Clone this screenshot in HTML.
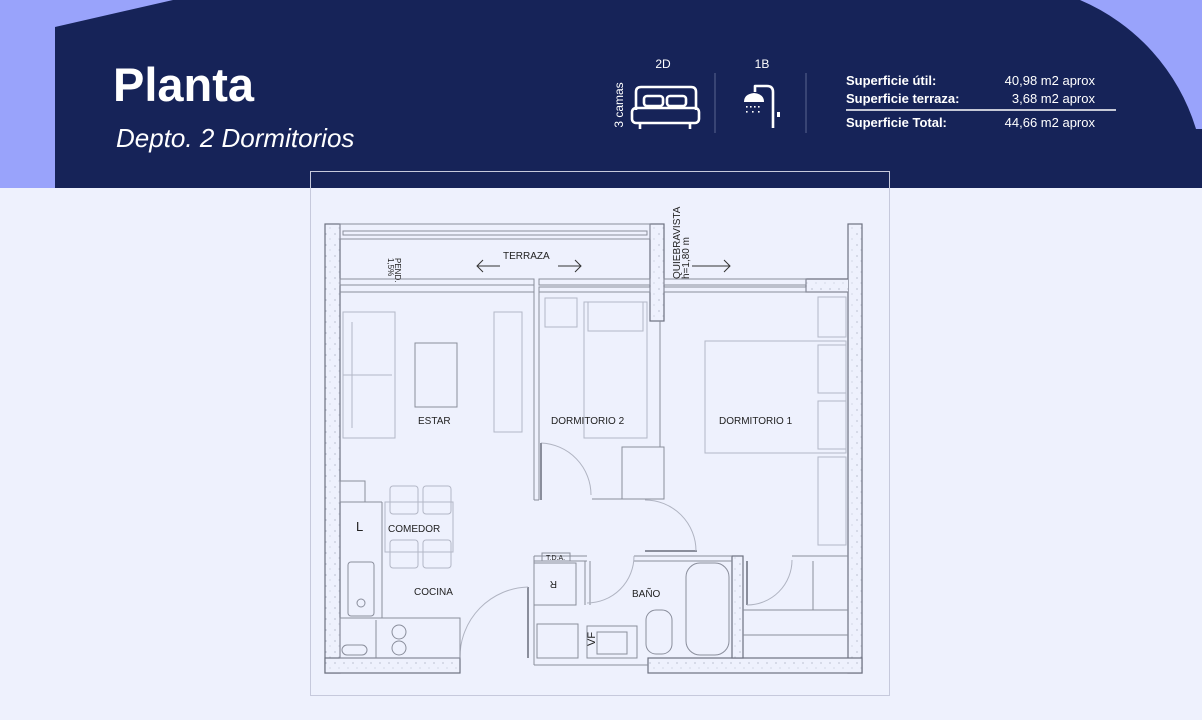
<!DOCTYPE html>
<html><head><meta charset="utf-8"><style>
html,body{margin:0;padding:0;width:1202px;height:720px;overflow:hidden;background:#eef1fd;font-family:"Liberation Sans",sans-serif;}
svg{position:absolute;left:0;top:0}
</style></head><body>
<svg width="1202" height="720" viewBox="0 0 1202 720" xmlns="http://www.w3.org/2000/svg">
<defs>
<pattern id="sp" width="9" height="11" patternUnits="userSpaceOnUse">
<rect width="9" height="11" fill="#eef1fd"/>
<circle cx="2" cy="3" r="0.6" fill="#9aa0b4"/><circle cx="6" cy="8" r="0.5" fill="#aab0c2"/>
</pattern>
</defs>
<rect x="0" y="0" width="1202" height="188" fill="#99a3fb"/>
<polygon points="55,27 173,0 1202,0 1202,188 55,188" fill="#162358"/>
<path d="M1080,0 A205,205 0 0 1 1196,129 L1202,129 L1202,0 Z" fill="#99a3fb"/>
<rect x="310.5" y="171.5" width="579" height="524" fill="none" stroke="#c6c9dc" stroke-width="1"/>
<text x="113" y="101" font-size="47" font-weight="bold" fill="#fff">Planta</text>
<text x="116" y="147" font-size="26" font-style="italic" fill="#fff">Depto. 2 Dormitorios</text>
<text x="663" y="68" font-size="12" fill="#fff" text-anchor="middle">2D</text>
<text x="762" y="68" font-size="12" fill="#fff" text-anchor="middle">1B</text>
<text transform="translate(623,105) rotate(-90)" font-size="12" fill="#fff" text-anchor="middle">3 camas</text>
<g fill="none" stroke="#fff" stroke-width="2.6" stroke-linejoin="round">
<path d="M636,110 V92 Q636,87 641,87 H691 Q696,87 696,92 V110"/>
<rect x="632" y="108" width="67" height="15" rx="4"/>
<rect x="644" y="96" width="19" height="10" rx="3"/><rect x="667" y="96" width="19" height="10" rx="3"/>
<path d="M640,124 V129 M690,124 V129"/>
<path d="M773,128 V92 Q773,86 767,86 H755 V92"/>
</g>
<path d="M744,102 Q744,94 754,93 Q764,94 764,102 Z" fill="#fff"/>
<g fill="#fff"><rect x="746" y="106" width="1.6" height="1.6"/><rect x="750" y="106" width="1.6" height="1.6"/><rect x="754" y="106" width="1.6" height="1.6"/><rect x="758" y="106" width="1.6" height="1.6"/><rect x="746" y="111" width="1.6" height="1.6"/><rect x="752" y="111" width="1.6" height="1.6"/><rect x="758" y="111" width="1.6" height="1.6"/><rect x="777" y="112" width="3" height="5"/></g>
<line x1="715" y1="73" x2="715" y2="133" stroke="#5a6590" stroke-width="1"/>
<line x1="806" y1="73" x2="806" y2="133" stroke="#5a6590" stroke-width="1"/>
<g font-size="13" fill="#fff">
<text x="846" y="85" font-weight="bold">Superficie útil:</text>
<text x="846" y="103" font-weight="bold">Superficie terraza:</text>
<text x="846" y="127" font-weight="bold">Superficie Total:</text>
<text x="1095" y="85" text-anchor="end">40,98 m2 aprox</text>
<text x="1095" y="103" text-anchor="end">3,68 m2 aprox</text>
<text x="1095" y="127" text-anchor="end">44,66 m2 aprox</text>
</g>
<line x1="846" y1="110" x2="1116" y2="110" stroke="#fff" stroke-width="1.6"/>

<g stroke="#6d7180" stroke-width="1.2">
<rect x="325" y="224" width="15" height="449" fill="url(#sp)"/>
<rect x="848" y="224" width="14" height="449" fill="url(#sp)"/>
<rect x="806" y="279" width="42" height="13" fill="url(#sp)" stroke="none"/>
<path d="M848,279 H806 V292 H848" fill="none"/>
<rect x="650" y="224" width="14" height="97" fill="url(#sp)"/>
<rect x="325" y="658" width="135" height="15" fill="url(#sp)"/>
<rect x="648" y="658" width="214" height="15" fill="url(#sp)"/>
<rect x="732" y="556" width="11" height="102" fill="url(#sp)"/>
</g>
<g fill="none" stroke="#8a8e9c" stroke-width="1">
<rect x="340" y="224" width="310" height="15"/>
<rect x="343" y="231" width="304" height="4"/>
<rect x="340" y="279" width="194" height="6"/>
<rect x="539" y="279" width="111" height="6"/><rect x="539" y="287" width="111" height="5"/>
<rect x="664" y="279" width="142" height="6"/><rect x="664" y="287" width="142" height="5"/>
<line x1="340" y1="292" x2="534" y2="292"/>
<line x1="539" y1="292" x2="539" y2="500"/><line x1="534" y1="285" x2="534" y2="500"/>
<line x1="534" y1="500" x2="539" y2="500"/>
<line x1="664" y1="292" x2="848" y2="292"/>
<line x1="660" y1="321" x2="660" y2="447"/>
<rect x="622" y="447" width="42" height="52"/>
<line x1="592" y1="499" x2="664" y2="499"/>
<line x1="645" y1="551" x2="697" y2="551" stroke-width="2"/>
<path d="M541,443 A52,52 0 0 1 591,495" stroke="#b0b4c2"/>
<line x1="541" y1="443" x2="541" y2="500" stroke-width="2"/>
<path d="M645,500 A51,51 0 0 1 696,551" stroke="#b0b4c2"/>
<line x1="534" y1="556" x2="587" y2="556"/><line x1="634" y1="556" x2="732" y2="556"/>
<line x1="534" y1="561" x2="587" y2="561"/><line x1="634" y1="561" x2="732" y2="561"/>
<rect x="542" y="553" width="28" height="8"/>
<rect x="534" y="563" width="42" height="42"/>
<line x1="585" y1="561" x2="585" y2="605"/><line x1="590" y1="561" x2="590" y2="605"/>
<line x1="528" y1="587" x2="528" y2="658" stroke-width="2"/>
<line x1="534" y1="556" x2="534" y2="665"/>
<line x1="534" y1="665" x2="648" y2="665"/>
<rect x="537" y="624" width="41" height="34"/>
<rect x="587" y="626" width="50" height="32"/><rect x="597" y="632" width="30" height="22"/>
<rect x="646" y="610" width="26" height="44" rx="10"/>
<rect x="686" y="563" width="43" height="92" rx="14"/>
<path d="M528,587 A70,70 0 0 0 460,657" stroke="#b0b4c2"/>
<path d="M587,603 A47,47 0 0 0 634,556" stroke="#b0b4c2"/>
<line x1="747" y1="561" x2="747" y2="605" stroke-width="2"/>
<path d="M747,605 A45,45 0 0 0 792,560" stroke="#b0b4c2"/>
<line x1="792" y1="556" x2="848" y2="556"/><line x1="743" y1="610" x2="848" y2="610"/><line x1="743" y1="635" x2="848" y2="635"/>
<line x1="813" y1="561" x2="813" y2="610"/>
<line x1="340" y1="502" x2="382" y2="502"/><line x1="382" y1="502" x2="382" y2="618"/>
<rect x="340" y="481" width="25" height="21"/>
<rect x="348" y="562" width="26" height="54" rx="3"/>
<circle cx="361" cy="603" r="4"/>
<rect x="340" y="618" width="120" height="40"/><line x1="376" y1="620" x2="376" y2="658"/>
<circle cx="399" cy="632" r="7"/><circle cx="399" cy="648" r="7"/>
<rect x="342" y="645" width="25" height="10" rx="5"/>
</g>
<g fill="none" stroke="#b3b7c6" stroke-width="1">
<rect x="343" y="312" width="52" height="126"/><line x1="352" y1="322" x2="352" y2="428"/><line x1="343" y1="375" x2="392" y2="375"/>
<rect x="415" y="343" width="42" height="64" stroke="#8a8e9c"/>
<rect x="494" y="312" width="28" height="120"/>
<rect x="545" y="298" width="32" height="29"/>
<rect x="584" y="302" width="63" height="136"/><rect x="588" y="302" width="55" height="29"/>
<rect x="705" y="341" width="141" height="112"/>
<rect x="818" y="297" width="28" height="40"/><rect x="818" y="345" width="28" height="48"/><rect x="818" y="401" width="28" height="48"/>
<rect x="818" y="457" width="28" height="88"/>
<rect x="385" y="502" width="68" height="50"/>
<rect x="390" y="486" width="28" height="28" rx="3"/><rect x="423" y="486" width="28" height="28" rx="3"/>
<rect x="390" y="540" width="28" height="28" rx="3"/><rect x="423" y="540" width="28" height="28" rx="3"/>
</g>
<g fill="none" stroke="#333" stroke-width="1">
<path d="M477,266 H500 M483,260 L477,266 L483,272"/>
<path d="M558,266 H581 M575,260 L581,266 L575,272"/>
<path d="M692,266 H730 M724,260 L730,266 L724,272"/>
</g>
<g font-size="10" fill="#222" font-family="'Liberation Sans Narrow','Liberation Sans',sans-serif">
<text x="503" y="259">TERRAZA</text>
<text x="418" y="424">ESTAR</text>
<text x="551" y="424">DORMITORIO 2</text>
<text x="719" y="424">DORMITORIO 1</text>
<text x="388" y="532">COMEDOR</text>
<text x="414" y="595">COCINA</text>
<text x="632" y="597">BAÑO</text>
<text x="356" y="531" font-size="13">L</text>
<text x="546" y="560" font-size="7">T.D.A.</text>
<text x="551" y="589" font-size="10" transform="rotate(180 554 585)">R</text>
<text transform="translate(595,646) rotate(-90)" font-size="11">VF</text>
<text transform="translate(680,279) rotate(-90)" font-size="10">QUIEBRAVISTA</text>
<text transform="translate(689,279) rotate(-90)" font-size="10">h=1,80 m</text>
<text transform="translate(395,258) rotate(90)" font-size="8">PEND.</text>
<text transform="translate(388,258) rotate(90)" font-size="8">1,5%</text>
</g>
</svg>
</body></html>
